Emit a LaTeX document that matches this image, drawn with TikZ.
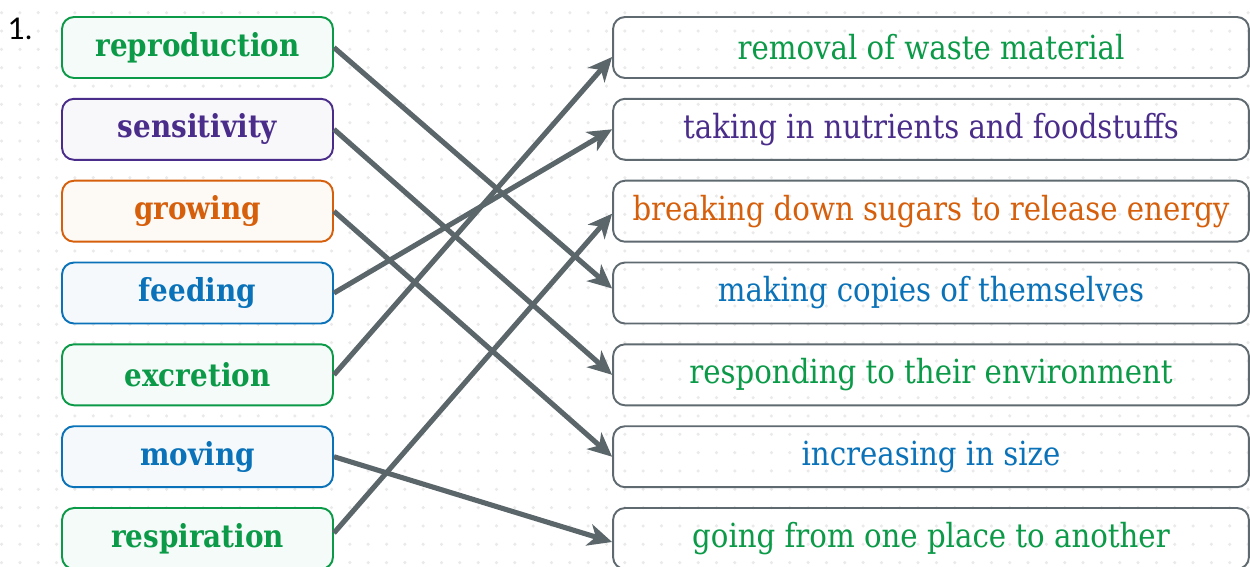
\documentclass[tikz,border=0pt]{standalone}
\usepackage{fontspec}
\setsansfont{Lato}
\newfontfamily\slabfont[FakeStretch=0.88]{DejaVu Serif}
\usetikzlibrary{arrows.meta}
\definecolor{lgreen}{HTML}{0B9A47}
\definecolor{lpurple}{HTML}{4A2D8A}
\definecolor{lorange}{HTML}{D65F0C}
\definecolor{lblue}{HTML}{0A72B8}
\definecolor{greybox}{HTML}{5F6A70}
\definecolor{greyarrow}{HTML}{5B666B}
\definecolor{greydot}{HTML}{EAEAEA}
\tikzset{
  term/.style={draw=#1, fill=#1!4, line width=1.1pt, rounded corners=0.24cm,
    minimum width=5.42cm, minimum height=1.22cm, text=#1,
    font=\slabfont\bfseries\fontsize{18}{20}\selectfont},
  meaning/.style={draw=greybox, line width=1.1pt, rounded corners=0.24cm,
    minimum width=12.72cm, minimum height=1.22cm, text=#1,
    font=\slabfont\fontsize{18.9}{20}\selectfont},
  link/.style={draw=greyarrow, line width=2.9pt,
    -{Stealth[length=0.48cm,width=0.44cm,inset=0.14cm]}}
}
\begin{document}
\begin{tikzpicture}[x=0.02cm,y=-0.02cm]
\useasboundingbox (0,0) rectangle (1250,566);
\clip (0,0) rectangle (1250,566);
\fill[white] (0,0) rectangle (1250,566);
% dotted paper
\foreach \i in {0,...,68}
  \foreach \j in {0,...,30}
    \fill[greydot] (1.6+18.33*\i,12.7+18.33*\j) circle [radius=0.035cm];
\node (num) at (20,29) {\sffamily\fontsize{17}{18}\selectfont 1.};
% terms
\node[term=lgreen]  (rep)  at (197.5,47.5)  {reproduction};
\node[term=lpurple] (sens) at (197.5,129.3) {sensitivity};
\node[term=lorange] (grow) at (197.5,211.2) {growing};
\node[term=lblue]   (feed) at (197.5,293.0) {feeding};
\node[term=lgreen]  (excr) at (197.5,374.8) {excretion};
\node[term=lblue]   (move) at (197.5,456.7) {moving};
\node[term=lgreen]  (resp) at (197.5,538.5) {respiration};
% meanings
\node[meaning=lgreen]  (waste)  at (931,47.5)  {removal of waste material};
\node[meaning=lpurple] (food)   at (931,129.3) {taking in nutrients and foodstuffs};
\node[meaning=lorange] (energy) at (931,211.2) {breaking down sugars to release energy};
\node[meaning=lblue]   (copies) at (931,293.0) {making copies of themselves};
\node[meaning=lgreen]  (env)    at (931,374.8) {responding to their environment};
\node[meaning=lblue]   (size)   at (931,456.7) {increasing in size};
\node[meaning=lgreen]  (place)  at (931,538.5) {going from one place to another};
% answers
\draw[link] (rep.east) -- ([yshift=0.09cm]copies.west);
\draw[link] (sens.east) -- (env.west);
\draw[link] (grow.east) -- (size.west);
\draw[link] (feed.east) -- (food.west);
\draw[link] (excr.east) -- ([yshift=-0.19cm]waste.west);
\draw[link] (move.east) -- ([yshift=-0.07cm]place.west);
\draw[link] ([yshift=0.11cm]resp.east) -- ([yshift=-0.05cm]energy.west);
\end{tikzpicture}
\end{document}
